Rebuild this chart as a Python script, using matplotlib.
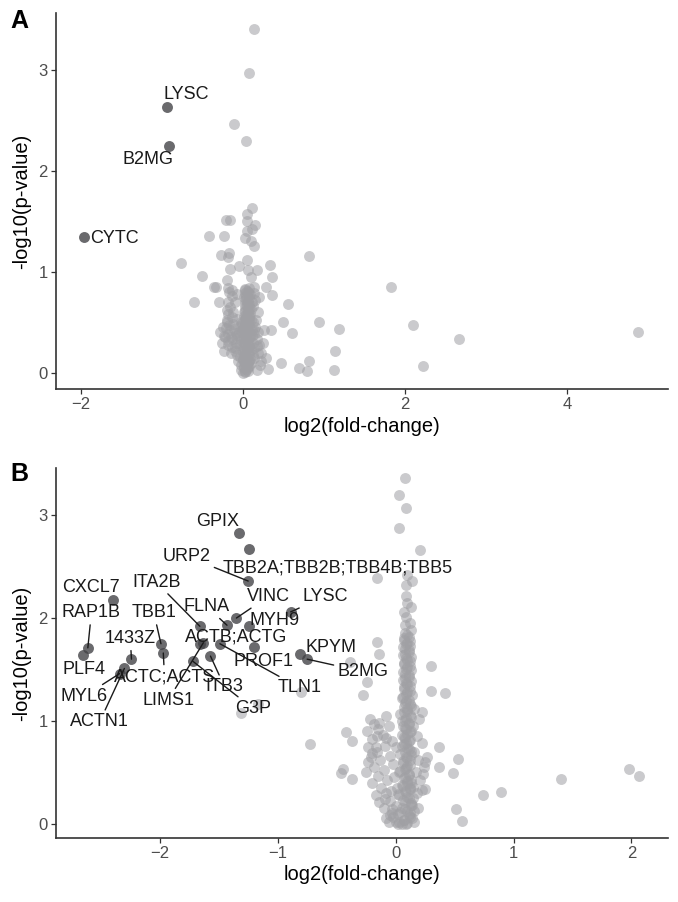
import numpy as np
import matplotlib
matplotlib.use("Agg")
import matplotlib.pyplot as plt

plt.rcParams['font.family'] = ['Liberation Sans', 'DejaVu Sans']

# ---------------- panel A data ----------------
# highlighted proteins
a_names = ["LYSC", "B2MG", "CYTC"]
a_hx = [-0.94, -0.91, -1.96]
a_hy = [2.63, 2.24, 1.34]

# background proteins (sparse part)
a_gx = [0.14, 0.07, -0.11, 0.04, 0.11, 0.05, 0.05, -0.21, -0.16, 0.15, 0.11, -0.42, -0.23,
        0.05, 0.10, 0.14, 0.03, -0.77, -0.27, -0.19, -0.17, 0.82, -0.51, -0.36, -0.33, -0.16,
        -0.05, 0.05, 0.06, 0.17, 0.10, 0.33, 0.36, 0.28, 0.36, -0.20, -0.19, -0.60, -0.30,
        0.55, 0.49, 0.94, 1.18, 0.34, 0.60, 1.14, 0.47, 0.69, 0.79, 0.81, 1.12, 0.17, 0.31,
        0.22, 1.83, 2.10, 2.67, 4.88, 2.22]
a_gy = [3.40, 2.97, 2.46, 2.29, 1.63, 1.57, 1.50, 1.51, 1.51, 1.46, 1.42, 1.35, 1.35,
        1.40, 1.30, 1.25, 1.33, 1.09, 1.17, 1.15, 1.19, 1.16, 0.96, 0.85, 0.85, 1.03,
        1.06, 1.12, 1.02, 1.02, 0.95, 1.07, 0.95, 0.85, 0.77, 0.92, 0.84, 0.70, 0.70,
        0.68, 0.50, 0.50, 0.43, 0.42, 0.39, 0.22, 0.10, 0.05, 0.02, 0.12, 0.03, 0.03, 0.04,
        0.12, 0.85, 0.47, 0.33, 0.40, 0.07]

# background proteins (dense core near zero)
a_cx = [0.00, 0.03, 0.06, -0.02, 0.01, 0.05, 0.08, -0.03, 0.02, 0.06, 0.00, 0.09, 0.04,
        -0.04, 0.01, 0.07, 0.03, -0.01, 0.10, 0.05, 0.00, 0.08, -0.05, 0.03, 0.12, 0.06,
        -0.02, 0.01, 0.09, 0.04, -0.07, 0.14, 0.02, 0.07, -0.03, 0.11, 0.05, 0.00, 0.08,
        0.03, -0.01, 0.06, 0.10, 0.02, 0.07, 0.04, 0.09, 0.01, 0.06, 0.10, 0.03, 0.08,
        0.05, 0.11, 0.02, 0.07, 0.04, 0.09, 0.06, 0.03, 0.08,
        -0.28, -0.25, -0.22, -0.20, -0.18, -0.16, -0.14, -0.12, -0.10, -0.09, -0.08, -0.26,
        -0.23, -0.19, -0.15, -0.13, 0.15, 0.17, 0.19, 0.13, 0.16, 0.20, 0.12, 0.18, 0.14,
        0.10, -0.06, -0.08,
        -0.17, -0.14, -0.19, -0.16, -0.12, -0.18, -0.10, -0.13, -0.08, -0.20,
        0.13, 0.15, 0.12, 0.18, 0.20, 0.14, 0.25, 0.22, 0.26, 0.21, 0.28]
a_cy = [0.00, 0.01, 0.02, 0.03, 0.05, 0.06, 0.07, 0.08, 0.10, 0.11, 0.13, 0.14, 0.15,
        0.16, 0.18, 0.19, 0.21, 0.22, 0.23, 0.24, 0.26, 0.27, 0.28, 0.29, 0.30, 0.31,
        0.32, 0.34, 0.35, 0.36, 0.37, 0.38, 0.39, 0.40, 0.41, 0.42, 0.43, 0.44, 0.46,
        0.47, 0.49, 0.50, 0.52, 0.53, 0.55, 0.57, 0.58, 0.60, 0.62, 0.63, 0.65, 0.67,
        0.69, 0.70, 0.72, 0.74, 0.76, 0.78, 0.80, 0.82, 0.84,
        0.40, 0.45, 0.35, 0.50, 0.28, 0.42, 0.33, 0.48, 0.25, 0.39, 0.53, 0.30,
        0.22, 0.38, 0.20, 0.55, 0.45, 0.33, 0.40, 0.25, 0.52, 0.28, 0.50, 0.20, 0.15,
        0.10, 0.12, 0.18,
        0.80, 0.76, 0.70, 0.65, 0.60, 0.58, 0.70, 0.82, 0.78, 0.62,
        0.79, 0.72, 0.66, 0.60, 0.75, 0.85, 0.30, 0.20, 0.42, 0.08, 0.15]
a_c2x = [0.02, 0.05, 0.01, 0.04, 0.07, 0.00, 0.03, 0.06, 0.02, 0.05, 0.08, 0.01, 0.04, 0.07,
         0.03, 0.06, 0.00, 0.05, 0.02, 0.07, 0.04, 0.01, 0.06, 0.03, 0.08, 0.05, 0.02, 0.06,
         0.04, 0.01, 0.07, 0.03, 0.05, 0.02, 0.06, 0.04, 0.07, 0.03, 0.05, 0.08,
         -0.21, -0.17, -0.11, -0.07, -0.04, -0.24, -0.19, -0.14, -0.09, -0.05, -0.02, 0.11,
         0.14, 0.17, 0.12, -0.20, -0.15, -0.10]
a_c2y = [0.02, 0.04, 0.07, 0.09, 0.12, 0.14, 0.17, 0.19, 0.22, 0.25, 0.27, 0.30, 0.33, 0.35,
         0.38, 0.41, 0.43, 0.46, 0.48, 0.51, 0.54, 0.56, 0.59, 0.61, 0.64, 0.66, 0.68, 0.71,
         0.73, 0.75, 0.77, 0.79, 0.81, 0.83, 0.06, 0.16, 0.26, 0.36, 0.46, 0.56,
         0.44, 0.47, 0.43, 0.34, 0.46, 0.36, 0.31, 0.26, 0.30, 0.40, 0.50, 0.36,
         0.42, 0.27, 0.18, 0.52, 0.35, 0.22]

# ---------------- panel B data ----------------
b_names = ["GPIX", "TBB2A;TBB2B;TBB4B;TBB5", "URP2", "CXCL7", "RAP1B", "PLF4", "ITA2B",
           "TBB1", "FLNA", "VINC", "LYSC", "MYH9", "1433Z", "ACTB;ACTG", "LIMS1", "PROF1",
           "ACTC;ACTS", "G3P", "ITB3", "TLN1", "KPYM", "B2MG", "ACTN1", "MYL6"]
b_hx = [-1.33, -1.24, -1.25, -2.40, -2.61, -2.65, -1.66, -1.99, -1.43, -1.35, -0.89, -1.24,
        -2.24, -1.66, -1.63, -1.20, -1.97, -1.72, -1.57, -1.49, -0.81, -0.75, -2.30, -2.34]
b_hy = [2.83, 2.67, 2.36, 2.18, 1.71, 1.64, 1.92, 1.75, 1.93, 2.00, 2.06, 1.92,
        1.60, 1.75, 1.76, 1.72, 1.66, 1.58, 1.63, 1.75, 1.65, 1.60, 1.51, 1.46]

b_gx = [0.08, 0.03, 0.09, 0.03, 0.21, -0.16, 0.10, 0.14, 0.09, 0.09, 0.13, 0.09, 0.12, 0.08,
        0.13, 0.10, 0.07, -0.16, -0.14, -0.39, -0.24, -0.28, 0.30, 0.30, 0.42, -0.08, -0.14,
        -0.42, -0.37, -0.73, 0.22, 0.37, 0.53, 0.37, 0.49, 0.25, -0.45, -0.46, -0.37, -0.23,
        -0.20, -0.17, 0.74, 0.89, 0.51, 0.56, -0.14, 0.19, 0.22, 1.40, 1.98, 2.06, -0.80,
        -1.17, -1.31, -0.16, -0.08, 0.00]
b_gy = [3.36, 3.20, 3.07, 2.88, 2.66, 2.39, 2.42, 2.36, 2.32, 2.21, 2.11, 2.01, 1.95, 1.93,
        1.88, 2.15, 2.06, 1.77, 1.65, 1.57, 1.38, 1.25, 1.53, 1.29, 1.27, 1.05, 0.98,
        0.89, 0.80, 0.77, 1.09, 0.75, 0.63, 0.55, 0.49, 0.60, 0.53, 0.49, 0.43, 0.60,
        0.69, 0.75, 0.28, 0.31, 0.14, 0.03, 0.21, 0.15, 0.33, 0.43, 0.53, 0.46, 1.28,
        1.16, 1.08, 0.85, 0.83, 0.75]

b_cx = [0.08, 0.11, 0.07, 0.10, 0.12, 0.08, 0.11, 0.06, 0.09, 0.12, 0.07, 0.10, 0.13, 0.08,
        0.11, 0.06, 0.09, 0.12, 0.07, 0.10, 0.14, 0.05, 0.09, 0.12, 0.07, 0.10, 0.04, 0.13,
        0.08, 0.11, 0.06, 0.09, 0.12, 0.05, 0.08, 0.11, 0.07, 0.10, 0.13, 0.04, 0.09, 0.12,
        0.06, 0.10, 0.08, 0.03, 0.11, 0.07, 0.10, 0.05, 0.12, 0.08, 0.02, 0.10, 0.06, 0.13,
        0.00, 0.08, 0.04, 0.11, -0.02, 0.07, 0.03, 0.10, 0.05,
        -0.08, -0.05, -0.10, -0.03, 0.15, 0.16, 0.14, -0.06, 0.01, 0.13, -0.01,
        -0.22, -0.18, -0.24, -0.15, -0.20, -0.11, -0.23, -0.16, -0.09, -0.21, -0.13, -0.05,
        -0.18, -0.10, -0.02, -0.15, -0.07, -0.20, -0.12, -0.04, -0.17, -0.09, -0.25, -0.03,
        -0.06,
        0.16, 0.20, 0.15, 0.18, 0.22, 0.16, 0.19, 0.24, 0.17, 0.21, 0.15, 0.25, 0.18, 0.23,
        0.27]
b_cy = [1.85, 1.82, 1.79, 1.76, 1.73, 1.70, 1.67, 1.64, 1.61, 1.58, 1.55, 1.52, 1.49, 1.46,
        1.43, 1.40, 1.37, 1.34, 1.31, 1.28, 1.25, 1.22, 1.19, 1.16, 1.13, 1.10, 1.07, 1.04,
        1.01, 0.98, 0.95, 0.92, 0.89, 0.86, 0.83, 0.80, 0.77, 0.74, 0.71, 0.68, 0.65, 0.62,
        0.59, 0.56, 0.53, 0.50, 0.47, 0.44, 0.41, 0.38, 0.35, 0.32, 0.29, 0.26, 0.23, 0.20,
        0.17, 0.14, 0.11, 0.08, 0.06, 0.04, 0.02, 0.01, 0.00,
        0.30, 0.22, 0.15, 0.10, 0.25, 0.12, 0.05, 0.02, 0.35, 0.40, 0.45,
        1.02, 0.97, 0.90, 0.92, 0.82, 0.86, 0.75, 0.70, 0.76, 0.65, 0.62, 0.66,
        0.55, 0.52, 0.58, 0.46, 0.42, 0.40, 0.35, 0.32, 0.28, 0.24, 0.50, 0.80,
        0.95,
        1.12, 1.02, 0.95, 0.85, 0.78, 0.70, 0.62, 0.55, 0.50, 0.42, 0.36, 0.34, 0.30, 0.48,
        0.65]
b_c2x = [0.10, 0.07, 0.12, 0.09, 0.06, 0.11, 0.08, 0.13, 0.10, 0.07,
         0.12, 0.09, 0.06, 0.11, 0.08, 0.13, 0.10, 0.07, 0.12, 0.09,
         0.06, 0.11, 0.08, 0.13, 0.10, 0.07, 0.12, 0.09, 0.05, 0.11,
         0.08, 0.13, 0.10, 0.07, 0.12, 0.09, 0.05, 0.11, 0.08, 0.13,
         0.10, 0.06, 0.12, 0.09, 0.04, 0.11, 0.08, 0.13, 0.10, 0.06,
         0.12, 0.09, 0.03, 0.11, 0.08, 0.13, 0.05, 0.10, 0.02, 0.12,
         0.07, 0.00,
         -0.05, 0.14, -0.08, 0.16, 0.02, -0.03, 0.09, 0.12]
b_c2y = [1.835, 1.805, 1.775, 1.745, 1.715, 1.685, 1.655, 1.625, 1.595, 1.565,
         1.535, 1.505, 1.475, 1.445, 1.415, 1.385, 1.355, 1.325, 1.295, 1.265,
         1.235, 1.205, 1.175, 1.145, 1.115, 1.085, 1.055, 1.025, 0.995, 0.965,
         0.935, 0.905, 0.875, 0.845, 0.815, 0.785, 0.755, 0.725, 0.695, 0.665,
         0.635, 0.605, 0.575, 0.545, 0.515, 0.485, 0.455, 0.425, 0.395, 0.365,
         0.335, 0.305, 0.275, 0.245, 0.215, 0.185, 0.155, 0.125, 0.095, 0.065,
         0.035, 0.015,
         0.08, 0.18, 0.05, 0.02, 0.00, 0.14, 0.00, 0.10]

# ---------------- label placement (text centres, data units) ----------------
a_lab_x = [-0.70, -1.17, -1.59]
a_lab_y = [2.75, 2.11, 1.33]
a_seg = [False, False, False]

b_lab_x = [-1.51, -0.49, -1.77, -2.58, -2.58, -2.64, -2.03, -2.05, -1.60, -1.08, -0.60, -1.03,
           -2.25, -1.35, -1.93, -1.12, -1.96, -1.21, -1.45, -0.81, -0.545, -0.28, -2.51, -2.64]
b_lab_y = [2.94, 2.49, 2.60, 2.30, 2.05, 1.50, 2.35, 2.05, 2.11, 2.21, 2.21, 1.98,
           1.80, 1.82, 1.20, 1.58, 1.43, 1.12, 1.33, 1.32, 1.71, 1.48, 0.99, 1.24]
b_seg = [False, False, True, False, True, False, True, True, True, True, True, False,
         True, False, True, False, True, True, True, True, False, True, True, True]

grey = '#a0a0a4'
dark = '#404044'
axcol = '#333333'


def style(ax):
    for s in ['top', 'right']:
        ax.spines[s].set_visible(False)
    for s in ['left', 'bottom']:
        ax.spines[s].set_color(axcol)
        ax.spines[s].set_linewidth(1.2)
    ax.tick_params(length=3.5, width=0.9, color=axcol, labelcolor='#4d4d4d',
                   labelsize=12, pad=2.5)
    ax.set_xlabel("log2(fold-change)", fontsize=14.5, labelpad=3)
    ax.set_ylabel("-log10(p-value)", fontsize=14.5, labelpad=5)


def label(ax, names, hx, hy, lx, ly, seg):
    for n, px, py, tx, ty, s in zip(names, hx, hy, lx, ly, seg):
        kw = {}
        if s:
            kw['arrowprops'] = dict(arrowstyle='-', color='#1a1a1a', lw=1.0,
                                    shrinkA=0.5, shrinkB=0)
        ax.annotate(n, xy=(px, py), xytext=(tx, ty), textcoords='data',
                    ha='center', va='center', fontsize=13, color='#1a1a1a',
                    zorder=4, **kw)


fig = plt.figure(figsize=(6.78, 9.02), dpi=100)
axA = fig.add_axes([56/678, 1 - 389/902, 612/678, 376/902])
axB = fig.add_axes([56/678, 1 - 838/902, 612/678, 370/902])

# panel A
axA.scatter(a_gx + a_cx + a_c2x, a_gy + a_cy + a_c2y, s=62, c=grey, alpha=0.55,
            linewidths=0, zorder=2)
axA.scatter(a_hx, a_hy, s=62, c=dark, alpha=0.78, linewidths=0, zorder=3)
label(axA, a_names, a_hx, a_hy, a_lab_x, a_lab_y, a_seg)
axA.set_xlim(-2.31, 5.25)
axA.set_ylim(-0.16, 3.56)
axA.set_xticks([-2, 0, 2, 4])
axA.set_yticks([0, 1, 2, 3])
style(axA)

# panel B
axB.scatter(b_gx + b_cx + b_c2x, b_gy + b_cy + b_c2y, s=62, c=grey, alpha=0.55,
            linewidths=0, zorder=2)
axB.scatter(b_hx, b_hy, s=62, c=dark, alpha=0.78, linewidths=0, zorder=3)
label(axB, b_names, b_hx, b_hy, b_lab_x, b_lab_y, b_seg)
axB.set_xlim(-2.88, 2.31)
axB.set_ylim(-0.14, 3.46)
axB.set_xticks([-2, -1, 0, 1, 2])
axB.set_yticks([0, 1, 2, 3])
style(axB)

fig.text(10/678, 1 - 21/902, "A", fontsize=18, fontweight='bold', va='center', ha='left')
fig.text(10/678, 1 - 474/902, "B", fontsize=18, fontweight='bold', va='center', ha='left')

fig.savefig("out.png", dpi=100)
